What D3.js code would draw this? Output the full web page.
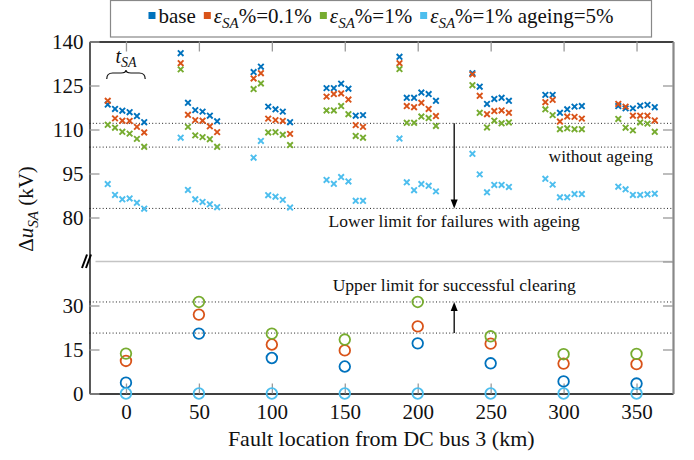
<!DOCTYPE html>
<html><head><meta charset="utf-8">
<script src="https://cdn.jsdelivr.net/npm/d3@7"></script>
</head><body style="margin:0;background:#fff">
<svg id="c" width="694" height="460" style="display:block"></svg>
<script>
// ---------- data ----------
const locations = [0, 50, 100, 150, 200, 250, 300, 350];
const tsaOffsets = [-12.5, -7.5, -2.5, 2.5, 7.5, 12.5];
const seriesNames = ["base", "eps01", "eps1", "ageing"];
const seriesColors = ["#0072BD", "#D95319", "#77AC30", "#4DBEEE"];

// upper panel: Δu_SA for each location (6 t_SA values)
const topBase = [
  [118.5,117.0,116.4,115.9,114.6,112.5],
  [136.0,119.1,116.6,116.1,114.7,112.8],
  [129.6,131.4,117.8,116.9,116.1,112.5],
  [124.1,124.1,125.6,123.9,114.7,114.9],
  [134.8,120.8,120.8,122.6,122.1,119.8],
  [129.2,124.6,118.7,120.4,120.8,119.8],
  [121.8,121.8,115.7,116.9,117.8,118.0],
  [118.0,117.2,117.2,118.1,118.4,117.6]];
const topEps01 = [
  [119.8,113.8,113.0,112.9,110.9,109.0],
  [132.6,115.0,113.2,113.0,111.1,109.1],
  [127.4,129.2,113.7,113.2,112.9,108.5],
  [121.2,122.1,122.3,120.2,111.5,110.9],
  [132.6,118.0,117.6,119.1,117.0,114.6],
  [128.8,121.5,115.2,116.3,116.5,115.7],
  [119.3,120.1,112.7,114.4,114.3,113.7],
  [118.7,117.8,114.7,114.7,114.7,113.1]];
const topEps1 = [
  [111.6,110.6,109.2,108.6,106.8,104.1],
  [130.5,110.9,108.0,107.4,106.7,104.1],
  [123.8,125.7,109.0,109.1,108.2,104.7],
  [116.5,116.5,118.0,115.2,107.8,107.2],
  [130.6,112.3,112.3,114.4,113.9,111.2],
  [125.1,115.7,110.7,113.0,112.1,112.4],
  [116.9,114.9,110.1,110.4,110.1,110.1],
  [113.6,110.6,109.7,112.4,112.0,109.2]];
const topAgeing = [
  [91.4,87.7,86.2,86.5,85.0,83.0],
  [107.2,89.4,86.2,85.3,84.5,83.5],
  [100.4,106.1,87.6,87.1,86.0,83.4],
  [92.8,91.5,93.8,92.3,85.7,85.7],
  [106.9,92.0,89.3,91.4,90.8,88.9],
  [101.7,94.7,88.6,91.1,91.1,90.4],
  [93.2,91.2,86.9,86.9,88.0,88.0],
  [90.5,89.6,87.7,87.7,87.9,88.1]];

// lower panel: clearing values per location
const botBase   = [3.7, 20.4, 12.1, 9.2, 17.1, 10.3, 4.1, 3.4];
const botEps01  = [11.1, 26.9, 16.7, 14.7, 22.9, 17.0, 10.2, 10.0];
const botEps1   = [13.6, 31.2, 20.4, 18.4, 31.2, 19.5, 13.4, 13.5];
const botAgeing = [0, 0, 0, 0, 0, 0, 0, 0];

const topLimits = [112.1, 104.0, 83.1];
const botLimits = [31.2, 20.6];
const topTicks = [80, 95, 110, 125, 140];
const botTicks = [0, 15, 30];
const arrowKm = 225;

// ---------- layout ----------
const FF = '"Liberation Serif", serif';
const svg = d3.select("#c");
const L = 89.5, R = 673, T = 41.5, B = 393.5, MID = 261.5;
const x = d3.scaleLinear().domain([-25, 375]).range([L, R]);
const yTop = d3.scaleLinear().domain([65, 140]).range([MID, T]);
const yBot = d3.scaleLinear().domain([0, 45]).range([B, MID]);
const FS = 21;

// separator between panels
svg.append("line").attr("x1", L + 6).attr("x2", R).attr("y1", MID).attr("y2", MID)
  .attr("stroke", "#c4c4c4").attr("stroke-width", 1.5);

// dotted limit lines
topLimits.forEach(v => svg.append("line").attr("x1", L).attr("x2", R)
  .attr("y1", yTop(v)).attr("y2", yTop(v))
  .attr("stroke", "#222").attr("stroke-width", 1).attr("stroke-dasharray", "1,2.3"));
botLimits.forEach(v => svg.append("line").attr("x1", L).attr("x2", R)
  .attr("y1", yBot(v)).attr("y2", yBot(v))
  .attr("stroke", "#222").attr("stroke-width", 1).attr("stroke-dasharray", "1,2.3"));

// axes
function styleAxis(g, domainColor, domainWidth) {
  g.attr("font-family", null);
  g.selectAll(".tick line").attr("stroke", "#9a9a9a").attr("stroke-width", 1.3);
  g.select(".domain").attr("stroke", domainColor).attr("stroke-width", domainWidth);
  g.selectAll("text").attr("font-size", FS).attr("fill", "#111");
}
const gBottom = svg.append("g").attr("transform", `translate(0,${B})`)
  .call(d3.axisBottom(x).tickValues(locations).tickSize(-10).tickSizeOuter(0).tickPadding(11));
styleAxis(gBottom, "#000", 1.3);
const gTopX = svg.append("g").attr("transform", `translate(0,${T})`)
  .call(d3.axisTop(x).tickValues(locations).tickSize(-10).tickSizeOuter(0).tickFormat(""));
styleAxis(gTopX, "#000", 1.3);
const gRightTop = svg.append("g").attr("transform", `translate(${R},0)`)
  .call(d3.axisRight(yTop).tickValues([65, 80, 95, 110, 125]).tickSize(-10).tickSizeOuter(0).tickFormat(""));
styleAxis(gRightTop, "#888", 2.2);
const gRightBot = svg.append("g").attr("transform", `translate(${R},0)`)
  .call(d3.axisRight(yBot).tickValues([15, 30]).tickSize(-10).tickSizeOuter(0).tickFormat(""));
styleAxis(gRightBot, "#888", 2.2);
const gLeftTop = svg.append("g").attr("transform", `translate(${L},0)`)
  .call(d3.axisLeft(yTop).tickValues(topTicks).tickSize(-10).tickSizeOuter(0).tickPadding(6));
styleAxis(gLeftTop, "#000", 1.3);
const gLeftBot = svg.append("g").attr("transform", `translate(${L},0)`)
  .call(d3.axisLeft(yBot).tickValues(botTicks).tickSize(-10).tickSizeOuter(0).tickPadding(6));
styleAxis(gLeftBot, "#000", 1.3);

// break marks
[0, 4].forEach(dx => svg.append("line")
  .attr("x1", 82 + dx).attr("y1", MID + 6.5).attr("x2", 87 + dx).attr("y2", MID - 7)
  .attr("stroke", "#000").attr("stroke-width", 2));

// upper-panel markers (crosses)
const crossPath = "M-2.8,-2.8L2.8,2.8M-2.8,2.8L2.8,-2.8";
const topSeries = [topBase, topEps01, topEps1, topAgeing];
topSeries.forEach((data, si) => {
  const pts = [];
  data.forEach((vals, li) => vals.forEach((v, ti) => pts.push({km: locations[li] + tsaOffsets[ti], v})));
  svg.append("g").selectAll("path").data(pts).join("path")
    .attr("d", crossPath)
    .attr("transform", d => `translate(${x(d.km)},${yTop(d.v)})`)
    .attr("stroke", seriesColors[si]).attr("stroke-width", 1.9).attr("fill", "none");
});

// lower-panel markers (circles)
const botSeries = [botBase, botEps01, botEps1, botAgeing];
botSeries.forEach((data, si) => {
  svg.append("g").selectAll("circle").data(data).join("circle")
    .attr("cx", (d, i) => x(locations[i])).attr("cy", d => yBot(d)).attr("r", 5.3)
    .attr("fill", "none").attr("stroke", seriesColors[si]).attr("stroke-width", 1.8);
});

// arrows
function arrow(xp, y1, y2) {
  const dir = y2 > y1 ? 1 : -1;
  svg.append("line").attr("x1", xp).attr("x2", xp).attr("y1", y1).attr("y2", y2 - dir * 7)
    .attr("stroke", "#000").attr("stroke-width", 1.3);
  svg.append("path").attr("d", `M${xp},${y2}L${xp - 3.5},${y2 - dir * 9}L${xp + 3.5},${y2 - dir * 9}Z`).attr("fill", "#000");
}
arrow(x(arrowKm), yTop(topLimits[0]), yTop(topLimits[2]));
arrow(x(arrowKm), yBot(botLimits[1]), yBot(botLimits[0]));

// annotations
const AFS = 17.5;
svg.append("text").attr("x", x(arrowKm)).attr("y", yTop(topLimits[2]) + 18.5)
  .attr("text-anchor", "middle").attr("font-size", AFS).text("Lower limit for failures with ageing");
svg.append("text").attr("x", x(arrowKm)).attr("y", yBot(botLimits[0]) - 11)
  .attr("text-anchor", "middle").attr("font-size", AFS).text("Upper limit for successful clearing");
svg.append("text").attr("x", 653).attr("y", yTop(topLimits[1]) + 15)
  .attr("text-anchor", "end").attr("font-size", AFS).text("without ageing");

// t_SA brace
const tsa = svg.append("text").attr("x", x(0)).attr("y", 63).attr("text-anchor", "middle").attr("font-size", 20);
tsa.append("tspan").attr("font-style", "italic").text("t");
tsa.append("tspan").attr("font-style", "italic").attr("font-size", 14).attr("dy", 4).text("SA");
const bx0 = x(tsaOffsets[0]) - 1, bx1 = x(tsaOffsets[5]) + 1, bm = x(0), by = 73;
svg.append("path").attr("d",
  `M${bx0},${by + 6} Q${bx0},${by} ${bx0 + 6},${by} L${bm - 5},${by} Q${bm},${by} ${bm},${by - 3} Q${bm},${by} ${bm + 5},${by} L${bx1 - 6},${by} Q${bx1},${by} ${bx1},${by + 6}`)
  .attr("fill", "none").attr("stroke", "#111").attr("stroke-width", 1.2);

// axis labels
svg.append("text").attr("x", (L + R) / 2).attr("y", 446).attr("text-anchor", "middle")
  .attr("font-size", 22).text("Fault location from DC bus 3 (km)");
const yl = svg.append("text").attr("transform", `translate(33,209) rotate(-90)`)
  .attr("text-anchor", "middle").attr("font-size", FS);
yl.append("tspan").text("Δ");
yl.append("tspan").attr("font-style", "italic").text("u");
yl.append("tspan").attr("font-style", "italic").attr("font-size", 15).attr("dy", 5).text("SA");
yl.append("tspan").attr("dy", -5).text(" (kV)");

// legend
const legBox = {x0: 110.5, x1: 651.5, y0: 0.5, y1: 37};
svg.append("rect").attr("x", legBox.x0).attr("y", legBox.y0)
  .attr("width", legBox.x1 - legBox.x0).attr("height", legBox.y1 - legBox.y0)
  .attr("fill", "#fff").attr("stroke", "#888").attr("stroke-width", 1.2);
const legG = svg.append("g");
const legBase = 23;
const legendParts = [
  [{t: "base"}],
  [{t: "ε", i: 1}, {t: "SA", i: 1, sub: 1}, {t: "%=0.1%"}],
  [{t: "ε", i: 1}, {t: "SA", i: 1, sub: 1}, {t: "%=1%"}],
  [{t: "ε", i: 1}, {t: "SA", i: 1, sub: 1}, {t: "%=1% ageing=5%"}]];
let cx = 0;
legendParts.forEach((parts, k) => {
  legG.append("rect").attr("x", cx).attr("y", legBase - 11).attr("width", 7).attr("height", 7)
    .attr("fill", seriesColors[k]);
  cx += 10;
  const t = legG.append("text").attr("x", cx).attr("y", legBase).attr("font-size", FS).style("font-family", FF);
  parts.forEach(p => {
    const s = t.append("tspan").text(p.t);
    if (p.i) s.attr("font-style", "italic");
    if (p.sub) s.attr("font-size", 15).attr("dy", 5);
    else if (p.t.startsWith("%")) s.attr("dy", -5);
  });
  cx += t.node().getComputedTextLength() + 8;
});
const legW = cx - 8;
legG.attr("transform", `translate(${(legBox.x0 + legBox.x1) / 2 - legW / 2},0)`);

// serif font on every text
svg.selectAll("text").style("font-family", FF).style("fill", "#111");
</script>
</body></html>
